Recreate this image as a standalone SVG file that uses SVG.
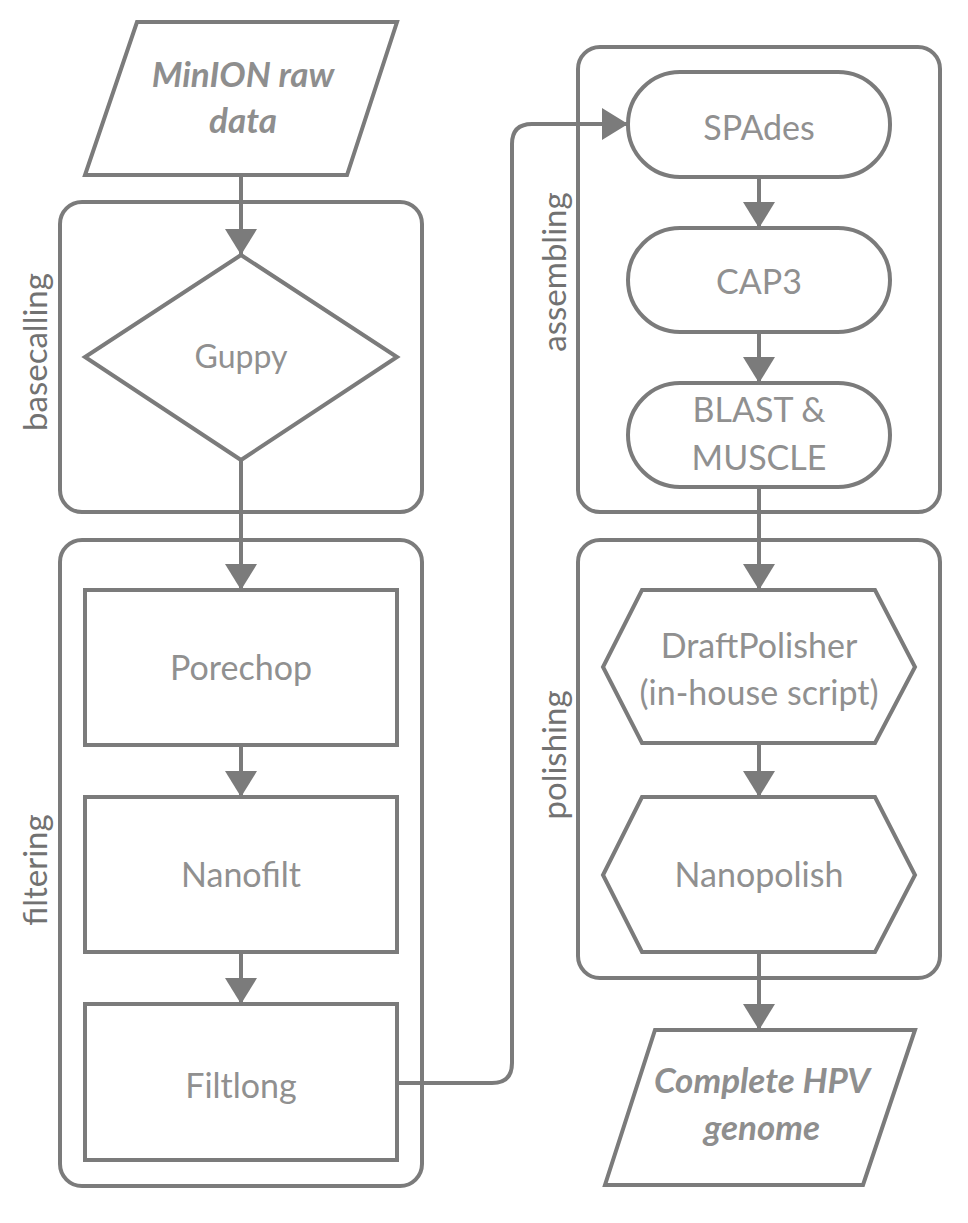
<svg xmlns="http://www.w3.org/2000/svg" width="968" height="1223" viewBox="0 0 968 1223">
<defs>
<style>
.box{fill:none;stroke:#7b7b7b;stroke-width:4}
.node{fill:#fff;stroke:#7b7b7b;stroke-width:4;stroke-linejoin:miter}
.line{fill:none;stroke:#7b7b7b;stroke-width:4}
.t{font-family:Lato,"Open Sans",sans-serif;font-size:34px;fill:#909090;text-anchor:middle}
.ti{font-family:Lato,"Open Sans",sans-serif;font-size:35px;font-style:italic;font-weight:bold;fill:#8e8e8e;text-anchor:middle}
.lab{font-family:Lato,"Open Sans",sans-serif;font-size:33px;fill:#727272;text-anchor:middle}
</style>
<marker id="arr" markerWidth="6.5" markerHeight="8" refX="6.5" refY="4" orient="auto" markerUnits="strokeWidth">
<path d="M0,0 L6.5,4 L0,8 Z" fill="#7b7b7b"/>
</marker>
</defs>
<rect width="968" height="1223" fill="#fff"/>
<g id="basecalling">
<rect class="box" x="60" y="202" width="362" height="310" rx="22"/>
<text class="lab" transform="translate(47,352) rotate(-90)">basecalling</text>
</g>
<g id="filtering">
<rect class="box" x="60" y="540" width="362" height="646" rx="22"/>
<text class="lab" transform="translate(47,870) rotate(-90)">filtering</text>
</g>
<g id="assembling">
<rect class="box" x="578" y="47" width="362" height="465" rx="22"/>
<text class="lab" transform="translate(566,272) rotate(-90)">assembling</text>
</g>
<g id="polishing">
<rect class="box" x="578" y="540" width="362" height="438" rx="22"/>
<text class="lab" transform="translate(566,755) rotate(-90)">polishing</text>
</g>
<g id="connectors">
<line class="line" x1="241" y1="175" x2="241" y2="255" marker-end="url(#arr)"/>
<line class="line" x1="241" y1="460" x2="241" y2="590" marker-end="url(#arr)"/>
<line class="line" x1="241" y1="745" x2="241" y2="797" marker-end="url(#arr)"/>
<line class="line" x1="241" y1="952" x2="241" y2="1004" marker-end="url(#arr)"/>
<path class="line" d="M397,1083 H492 Q512,1083 512,1063 V144 Q512,124 532,124 H628" marker-end="url(#arr)"/>
<line class="line" x1="759" y1="177" x2="759" y2="228" marker-end="url(#arr)"/>
<line class="line" x1="759" y1="332" x2="759" y2="383" marker-end="url(#arr)"/>
<line class="line" x1="759" y1="487" x2="759" y2="590" marker-end="url(#arr)"/>
<line class="line" x1="759" y1="743" x2="759" y2="797" marker-end="url(#arr)"/>
<line class="line" x1="759" y1="952" x2="759" y2="1030" marker-end="url(#arr)"/>
</g>
<g id="minion">
<polygon class="node" points="137,22 397,22 347,175 85,175"/>
<text class="ti" x="243" y="87">MinION raw</text>
<text class="ti" x="243" y="133">data</text>
</g>
<g id="guppy">
<polygon class="node" points="241,255 397,357 241,460 85,357"/>
<text class="t" x="241" y="368" style="font-size:32px">Guppy</text>
</g>
<g id="porechop">
<rect class="node" x="85" y="590" width="312" height="155"/>
<text class="t" x="241" y="680">Porechop</text>
</g>
<g id="nanofilt">
<rect class="node" x="85" y="797" width="312" height="155"/>
<text class="t" x="241" y="887">Nanofilt</text>
</g>
<g id="filtlong">
<rect class="node" x="85" y="1004" width="312" height="156"/>
<text class="t" x="241" y="1098">Filtlong</text>
</g>
<g id="spades">
<rect class="node" x="628" y="72" width="262" height="105" rx="52"/>
<text class="t" x="759" y="140">SPAdes</text>
</g>
<g id="cap3">
<rect class="node" x="628" y="228" width="262" height="104" rx="52"/>
<text class="t" x="759" y="294">CAP3</text>
</g>
<g id="blast">
<rect class="node" x="628" y="383" width="262" height="104" rx="52"/>
<text class="t" x="759" y="422">BLAST &amp;</text>
<text class="t" x="759" y="470">MUSCLE</text>
</g>
<g id="draftpolisher">
<polygon class="node" points="642,590 875,590 915,667 875,743 642,743 603,667"/>
<text class="t" x="759" y="658">DraftPolisher</text>
<text class="t" x="759" y="705">(in-house script)</text>
</g>
<g id="nanopolish">
<polygon class="node" points="642,797 875,797 915,875 875,952 642,952 603,875"/>
<text class="t" x="759" y="887">Nanopolish</text>
</g>
<g id="complete">
<polygon class="node" points="655,1030 915,1030 863,1185 605,1185"/>
<text class="ti" x="762" y="1093">Complete HPV</text>
<text class="ti" x="762" y="1140">genome</text>
</g>
</svg>
